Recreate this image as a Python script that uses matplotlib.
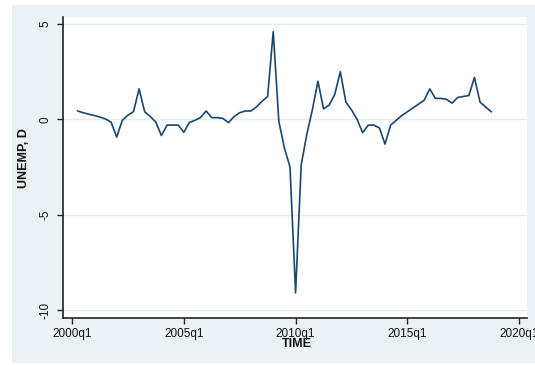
import pandas as pd
import matplotlib
matplotlib.use("Agg")
import matplotlib.pyplot as plt
from matplotlib.patches import Rectangle

# quarterly change in unemployment, 2000q2 - 2018q4
quarters = pd.period_range("2000Q2", "2018Q4", freq="Q")
unemp_d = [0.44, 0.35, 0.27, 0.2, 0.12, 0.02, -0.15, -0.93, -0.05, 0.22,
           0.4, 1.6, 0.4, 0.15, -0.15, -0.85, -0.3, -0.3, -0.3, -0.68,
           -0.16, -0.05, 0.1, 0.44, 0.09, 0.09, 0.05, -0.17, 0.15, 0.35,
           0.44, 0.44, 0.65, 0.95, 1.2, 4.6, -0.1, -1.5, -2.5, -9.1,
           -2.4, -0.8, 0.5, 2.0, 0.55, 0.75, 1.3, 2.5, 0.9, 0.5,
           0.0, -0.7, -0.3, -0.3, -0.45, -1.3, -0.3, -0.05, 0.2, 0.4,
           0.6, 0.8, 1.0, 1.6, 1.1, 1.1, 1.05, 0.85, 1.15, 1.2,
           1.25, 2.2, 0.9, 0.65, 0.4]

xtick_labels = ["2000q1", "2005q1", "2010q1", "2015q1", "2020q1"]
yticks = [5, 0, -5, -10]

# quarters counted from 2000q1
t = [(p.year - 2000) * 4 + p.quarter - 1 for p in quarters]
xticks = [(int(s[:4]) - 2000) * 4 for s in xtick_labels]

plt.rcParams["font.family"] = ["Liberation Sans", "DejaVu Sans"]

W, H = 535, 365
fig = plt.figure(figsize=(W / 100, H / 100), dpi=100, facecolor="white")
# light graph region behind the plot area
fig.patches.append(Rectangle((12 / W, 2 / H), (W - 12) / W, 358 / H,
                             transform=fig.transFigure, facecolor="#EAF2F3",
                             edgecolor="none", zorder=-5))

ax = fig.add_axes([63 / W, (H - 318) / H, (527 - 63) / W, (318 - 17) / H])
ax.set_facecolor("white")

ax.plot(t, unemp_d, color="#1A476F", linewidth=1.2)

ax.set_xlim(-1.61, 81.4)
ax.set_ylim(-10.42, 5.37)

ax.set_yticks(yticks)
ax.set_yticklabels([str(v) for v in yticks], rotation=90, va="center")
ax.set_xticks(xticks)
ax.set_xticklabels(xtick_labels)

for y in yticks:
    ax.axhline(y, color="#E4ECEE", linewidth=1.0, zorder=0)

for side in ["top", "right"]:
    ax.spines[side].set_visible(False)
for side in ["left", "bottom"]:
    ax.spines[side].set_color("#222222")
    ax.spines[side].set_linewidth(1.2)

ax.tick_params(axis="both", direction="out", length=4, width=1.0,
               color="#222222", labelsize=8.5, labelcolor="#111111")
ax.tick_params(axis="y", pad=4)
ax.tick_params(axis="x", pad=3)

ax.set_ylabel("UNEMP, D", fontsize=9, fontweight="bold", color="#111111")
ax.yaxis.set_label_coords(-0.072, 0.53)
ax.set_xlabel("TIME", fontsize=9, fontweight="bold", color="#111111")
ax.xaxis.set_label_coords(0.505, -0.066)

fig.savefig("out.png", dpi=100, facecolor=fig.get_facecolor())
